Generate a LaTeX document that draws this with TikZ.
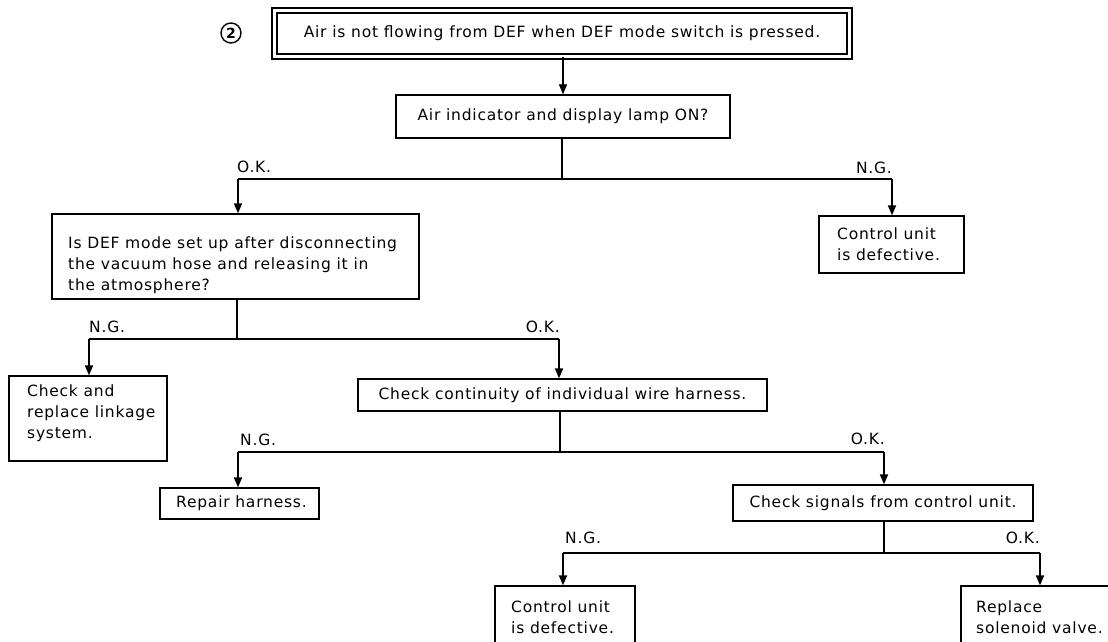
\documentclass[tikz,border=0pt]{standalone}
\usepackage{fontspec}
\setmainfont{DejaVu Sans}[LetterSpace=5.0]
\usetikzlibrary{arrows.meta}
\begin{document}
\begin{tikzpicture}[x=1pt,y=-1pt,
  every node/.style={font=\fontsize{15.5}{21}\selectfont},
  box/.style={draw, line width=1.3pt, rectangle, inner sep=0pt},
  txt/.style={align=left, inner sep=0pt, anchor=west},
  lbl/.style={inner sep=0pt},
  stem/.style={line width=1.1pt},
  conn/.style={line width=1.8pt},
  arr/.style={line width=1.8pt, -{Triangle[length=10pt,width=8pt]}}]
\useasboundingbox (0,0) rectangle (1108,641);
\clip (0,0) rectangle (1108,641);
\fill[white] (0,0) rectangle (1108,641);

% title
\node[circle, draw, line width=1.4pt, inner sep=0pt, minimum size=20pt,
      font=\bfseries\fontsize{14}{14}\selectfont] (num) at (231,33) {2};
\node[box, line width=1.2pt, double, double distance=3.8pt,
      minimum width=575pt, minimum height=46pt] (t) at (562,33.5)
  {Air is not flowing from DEF when DEF mode switch is pressed.};

% level 1
\node[box, minimum width=334pt, minimum height=43pt] (air) at (563,116.5)
  {Air indicator and display lamp ON?};
\draw[stem, -{Triangle[length=10pt,width=8pt]}] (t.south -| air.north) -- (air.north);

\coordinate (j1) at (562,179);
\coordinate (c1l) at (238,179);
\coordinate (c1r) at (892,179);
\node[box, minimum width=367pt, minimum height=85pt] (q) at (235.5,256.5) {};
\node[txt] (qt) at (68,265) {Is DEF mode set up after disconnecting\\the vacuum hose and releasing it in\\the atmosphere?};
\node[box, minimum width=145pt, minimum height=57pt] (cu1) at (891.5,244.5) {};
\node[txt] (cu1t) at (837,244) {Control unit\\is defective.};
\draw[stem] (air.south -| j1) -- (j1);
\draw[conn] (c1l) -- (c1r);
\draw[arr] (c1l) -- (q.north -| c1l);
\draw[arr] (c1r) -- (cu1.north -| c1r);
\node[lbl, anchor=base west] (ok1) at (237,172) {O.K.};
\node[lbl, anchor=base east] (ng1) at (892,173) {N.G.};

% level 2
\coordinate (j2) at (237,339);
\coordinate (c2l) at (89,339);
\coordinate (c2r) at (559,339);
\node[box, minimum width=158pt, minimum height=85pt] (lk) at (88,418.5) {};
\node[txt] (lkt) at (27,413) {Check and\\replace linkage\\system.};
\node[box, minimum width=409pt, minimum height=32pt] (wh) at (562.5,395)
  {Check continuity of individual wire harness.};
\draw[stem] (q.south -| j2) -- (j2);
\draw[conn] (c2l) -- (c2r);
\draw[arr] (c2l) -- (lk.north -| c2l);
\draw[arr] (c2r) -- (wh.north -| c2r);
\node[lbl, anchor=base west] (ng2) at (89,332) {N.G.};
\node[lbl, anchor=base east] (ok2) at (560,332) {O.K.};

% level 3
\coordinate (j3) at (560,452);
\coordinate (c3l) at (238,452);
\coordinate (c3r) at (884,452);
\node[box, minimum width=159pt, minimum height=31pt] (rh) at (239.5,503.5) {};
\node[txt] (rht) at (176,503.5) {Repair harness.};
\node[box, minimum width=300pt, minimum height=36pt] (sg) at (883,503)
  {Check signals from control unit.};
\draw[stem] (wh.south -| j3) -- (j3);
\draw[conn] (c3l) -- (c3r);
\draw[arr] (c3l) -- (rh.north -| c3l);
\draw[arr] (c3r) -- (sg.north -| c3r);
\node[lbl, anchor=base west] (ng3) at (240,445) {N.G.};
\node[lbl, anchor=base east] (ok3) at (885,444) {O.K.};

% level 4
\coordinate (j4) at (884,553);
\coordinate (c4l) at (563,553);
\coordinate (c4r) at (1040,553);
\node[box, minimum width=140pt, minimum height=64pt] (cu2) at (565,618) {};
\node[txt] (cu2t) at (511,617.5) {Control unit\\is defective.};
\node[box, minimum width=159pt, minimum height=64pt] (sv) at (1040.5,618) {};
\node[txt] (svt) at (976,617.5) {Replace\\solenoid valve.};
\draw[conn] (sg.south -| j4) -- (j4);
\draw[conn] (c4l) -- (c4r);
\draw[arr] (c4l) -- (cu2.north -| c4l);
\draw[arr] (c4r) -- (sv.north -| c4r);
\node[lbl, anchor=base west] (ng4) at (565,543) {N.G.};
\node[lbl, anchor=base east] (ok4) at (1040,543) {O.K.};
\end{tikzpicture}
\end{document}
